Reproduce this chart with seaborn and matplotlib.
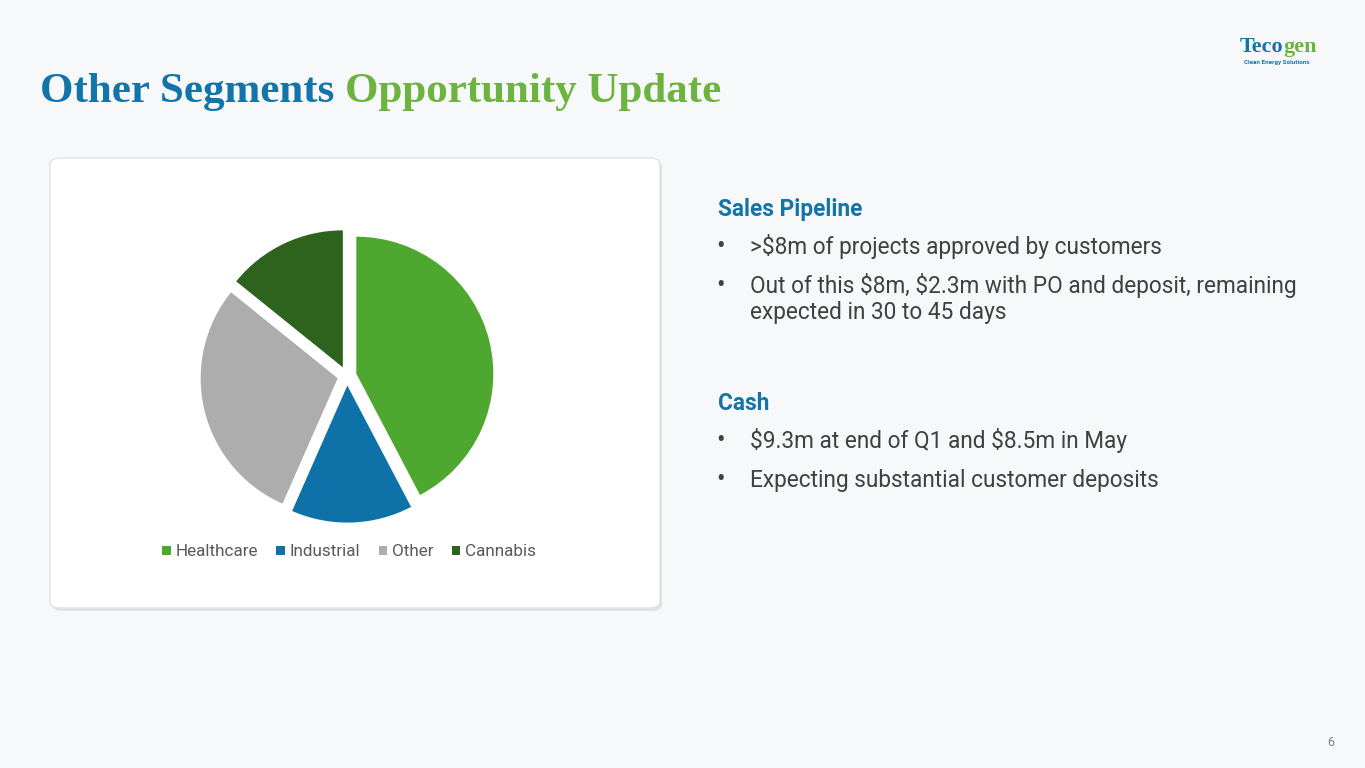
import matplotlib
matplotlib.use("Agg")
import matplotlib.pyplot as plt
import seaborn as sns
from matplotlib.patches import FancyBboxPatch

# ---- data ----
categories = ["Healthcare", "Industrial", "Other", "Cannabis"]
shares = [42.3, 14.3, 29.2, 14.2]
colors = ["#4ea72e", "#0e72a8", "#adadad", "#2e631d"]

title_a = "Other Segments "
title_b = "Opportunity Update"
head1 = "Sales Pipeline"
bullets1 = [">$8m of projects approved by customers",
            "Out of this $8m, $2.3m with PO and deposit, remaining\nexpected in 30 to 45 days"]
head2 = "Cash"
bullets2 = ["$9.3m at end of Q1 and $8.5m in May",
            "Expecting substantial customer deposits"]

sns.set_theme(style="white")
plt.rcParams["font.family"] = ["Roboto", "DejaVu Sans"]
plt.rcParams["text.parse_math"] = False

W, H = 1365, 768
fig = plt.figure(figsize=(W / 100, H / 100), dpi=100)
fig.patch.set_facecolor("#f7f8fa")

def fx(x):
    return x / W

def fy(y):
    return 1 - y / H

# card with shadow
shadow = FancyBboxPatch((fx(52), fy(611)), fx(610), (450) / H,
                        boxstyle="round,pad=0,rounding_size=0.008",
                        transform=fig.transFigure, facecolor="#d8d8d8",
                        edgecolor="none", alpha=0.7, zorder=0)
card = FancyBboxPatch((fx(50), fy(608)), fx(610), (450) / H,
                      boxstyle="round,pad=0,rounding_size=0.008",
                      transform=fig.transFigure, facecolor="white",
                      edgecolor="#e2e2e2", linewidth=1.0, zorder=1)
fig.patches.extend([shadow, card])

# pie axes: centre (347, 376) px, radius ~137 px
R = 137
half = 200
ax = fig.add_axes([fx(347 - half), fy(376 + half), fx(2 * half), 2 * half / H])
ax.set_zorder(2)
wedges, _ = ax.pie(shares, colors=colors, startangle=90, counterclock=False,
                   explode=[0.07] * 4, radius=1.0,
                   wedgeprops=dict(linewidth=0))
ax.set_xlim(-half / R, half / R)
ax.set_ylim(-half / R, half / R)
ax.set_aspect("equal")
ax.axis("off")

leg = ax.legend(wedges, categories, loc="center",
                bbox_to_anchor=(fx(349), fy(552)), bbox_transform=fig.transFigure,
                ncol=4, frameon=False, handlelength=0.5, handleheight=0.5,
                handletextpad=0.25, columnspacing=1.1, fontsize=12.3,
                labelcolor="#595959")

# title
t1 = fig.text(fx(40), fy(102), title_a, fontsize=31, fontweight="bold",
              family=["Liberation Serif"], color="#1274a8", va="baseline")
fig.canvas.draw()
bb = t1.get_window_extent()
fig.text(bb.x1 / W, fy(102), title_b, fontsize=31, fontweight="bold",
         family=["Liberation Serif"], color="#6cb33f", va="baseline")

# right-side text
blue = "#1474a8"
grey = "#404040"
fs = 16.3
bfs = 18
fig.text(fx(718), fy(216), head1, fontsize=fs, fontweight="bold", color=blue, va="baseline")
fig.text(fx(716), fy(254), "•", fontsize=bfs, color=grey, va="baseline")
fig.text(fx(750), fy(254), bullets1[0], fontsize=fs, color=grey, va="baseline")
fig.text(fx(716), fy(293), "•", fontsize=bfs, color=grey, va="baseline")
fig.text(fx(750), fy(293), bullets1[1].split("\n")[0], fontsize=fs, color=grey, va="baseline")
fig.text(fx(750), fy(319), bullets1[1].split("\n")[1], fontsize=fs, color=grey, va="baseline")
fig.text(fx(718), fy(410), head2, fontsize=fs, fontweight="bold", color=blue, va="baseline")
fig.text(fx(716), fy(448), "•", fontsize=bfs, color=grey, va="baseline")
fig.text(fx(750), fy(448), bullets2[0], fontsize=fs, color=grey, va="baseline")
fig.text(fx(716), fy(487), "•", fontsize=bfs, color=grey, va="baseline")
fig.text(fx(750), fy(487), bullets2[1], fontsize=fs, color=grey, va="baseline")

# logo
lg1 = fig.text(fx(1240), fy(52), "Teco", fontsize=16, fontweight="bold",
               family=["Liberation Serif"], color="#1474a8", va="baseline")
fig.canvas.draw()
b2 = lg1.get_window_extent()
fig.text(b2.x1 / W, fy(52), "gen", fontsize=16, fontweight="bold",
         family=["Liberation Serif"], color="#6cb33f", va="baseline")
fig.text(fx(1244), fy(64), "Clean Energy Solutions", fontsize=4.5,
         fontweight="bold", color="#1474a8", va="baseline")

# page number
fig.text(fx(1331), fy(742), "6", fontsize=9, color="#7f7f7f", ha="center", va="center")

fig.savefig("out.png", dpi=100, facecolor=fig.get_facecolor())
